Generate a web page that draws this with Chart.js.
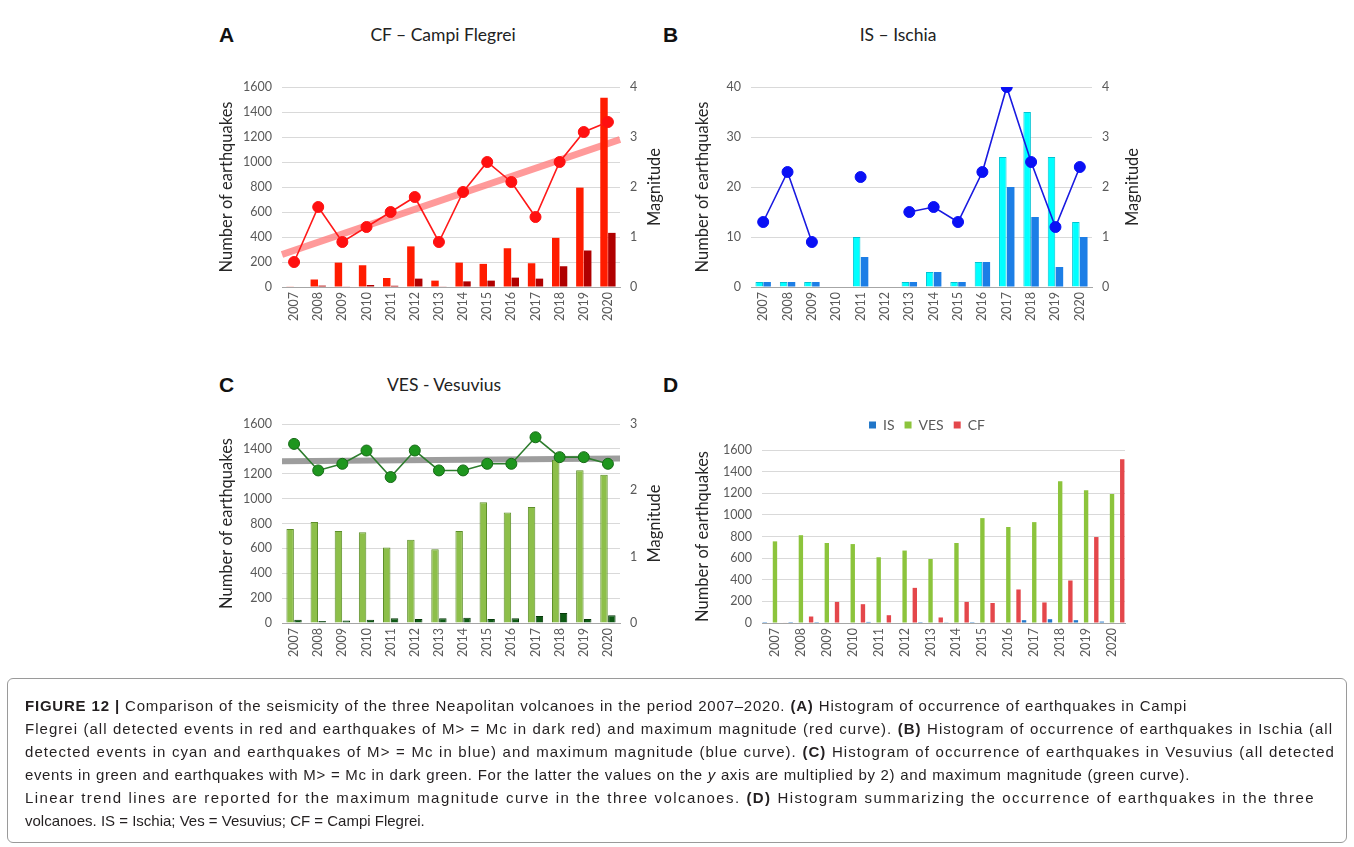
<!DOCTYPE html>
<html>
<head>
<meta charset="utf-8">
<script src="https://cdn.jsdelivr.net/npm/chart.js@4.4.0/dist/chart.umd.min.js"></script>
<style>
body { margin: 0; background: #fff; width: 1354px; height: 847px; position: relative; overflow: hidden; }
canvas { position: absolute; }
.let { position: absolute; font: bold 21px "Liberation Sans", Arial, sans-serif; color: #111; }
.ttl { position: absolute; font: 17.5px Lato, sans-serif; color: #222; transform: translateX(-50%); white-space: nowrap; }
.frame { position: absolute; left: 7px; top: 678px; width: 1338px; height: 163px; border: 1px solid #9a9a9a; border-radius: 6px; }
.cap { position: absolute; left: 25px; top: 694px; font: 15px "Liberation Sans", Arial, sans-serif; line-height: 23px; color: #231f20; white-space: nowrap; }
.cap span { display: block; text-align: justify; text-align-last: justify; }
.cap span.last { text-align-last: left; }
</style>
</head>
<body>
<div class="let" style="left:219px;top:23px">A</div>
<div class="ttl" style="left:443px;top:24px">CF – Campi Flegrei</div>
<div class="let" style="left:663px;top:23px">B</div>
<div class="ttl" style="left:898px;top:24px">IS – Ischia</div>
<div class="let" style="left:219px;top:373px">C</div>
<div class="ttl" style="left:444px;top:374px">VES - Vesuvius</div>
<div class="let" style="left:663px;top:373px">D</div>

<canvas id="chA" width="475" height="290" style="left:190px;top:60px"></canvas>
<canvas id="chB" width="500" height="290" style="left:665px;top:60px"></canvas>
<canvas id="chC" width="475" height="290" style="left:190px;top:395px"></canvas>
<canvas id="chD" width="524" height="290" style="left:665px;top:395px"></canvas>

<div class="frame"></div>
<div class="cap">
<span style="width:1162px;letter-spacing:0.78px"><b>FIGURE 12 |</b> Comparison of the seismicity of the three Neapolitan volcanoes in the period 2007–2020. <b>(A)</b> Histogram of occurrence of earthquakes in Campi</span>
<span style="width:1308px;letter-spacing:1.02px">Flegrei (all detected events in red and earthquakes of M&gt; = Mc in dark red) and maximum magnitude (red curve). <b>(B)</b> Histogram of occurrence of earthquakes in Ischia (all</span>
<span style="width:1310px;letter-spacing:1.06px">detected events in cyan and earthquakes of M&gt; = Mc in blue) and maximum magnitude (blue curve). <b>(C)</b> Histogram of occurrence of earthquakes in Vesuvius (all detected</span>
<span style="width:1165px;letter-spacing:0.64px">events in green and earthquakes with M&gt; = Mc in dark green. For the latter the values on the <i>y</i> axis are multiplied by 2) and maximum magnitude (green curve).</span>
<span style="width:1290px;letter-spacing:1.42px">Linear trend lines are reported for the maximum magnitude curve in the three volcanoes. <b>(D)</b> Histogram summarizing the occurrence of earthquakes in the three</span>
<span class="last">volcanoes. IS = Ischia; Ves = Vesuvius; CF = Campi Flegrei.</span>
</div>

<script>
// data
var years = ['2007','2008','2009','2010','2011','2012','2013','2014','2015','2016','2017','2018','2019','2020'];

var cfAll = [5, 60, 195, 174, 72, 325, 51, 195, 185, 310, 190, 393, 795, 1514];
var cfMc  = [0, 11, 5, 16, 10, 67, 5, 45, 51, 75, 67, 166, 292, 433];
var cfMag = [0.5, 1.6, 0.9, 1.2, 1.5, 1.8, 0.9, 1.9, 2.5, 2.1, 1.4, 2.5, 3.1, 3.3];
var cfTrend = [0.65, 2.95];   // trend line magnitude at left / right edge of the plot

var isAll = [1, 1, 1, 0, 10, 0, 1, 3, 1, 5, 26, 35, 26, 13];
var isMc  = [1, 1, 1, 0, 6, 0, 1, 3, 1, 5, 20, 14, 4, 10];
var isMag = [1.3, 2.3, 0.9, null, 2.2, null, 1.5, 1.6, 1.3, 2.3, 4.0, 2.5, 1.2, 2.4];

var vesAll = [755, 812, 740, 730, 608, 670, 592, 740, 970, 888, 933, 1312, 1228, 1192];
var vesMc  = [27, 16, 21, 27, 38, 32, 38, 43, 32, 38, 56, 80, 32, 62];
var vesMag = [2.7, 2.3, 2.4, 2.6, 2.2, 2.6, 2.3, 2.3, 2.4, 2.4, 2.8, 2.5, 2.5, 2.4];
var vesTrend = [2.44, 2.48];

Chart.defaults.font.family = 'Lato';
Chart.defaults.animation = false;

var rightTitle = {
	id: 'rightTitle',
	afterDraw: function(chart, args, opts){
		if (!opts.text) return;
		var ctx = chart.ctx, a = chart.chartArea;
		ctx.save();
		ctx.translate(a.right + opts.dx, (a.top + a.bottom) / 2);
		ctx.rotate(-Math.PI / 2);
		ctx.font = '16.5px Lato';
		ctx.fillStyle = '#262626';
		ctx.textAlign = 'center';
		ctx.textBaseline = 'middle';
		ctx.fillText(opts.text, 0, 0);
		ctx.restore();
	}
};

// linear trend line across the plot, under the bars
var trend = {
	id: 'trend',
	beforeDatasetsDraw: function(chart, args, opts){
		if (!opts.ends) return;
		var ctx = chart.ctx, a = chart.chartArea, y1 = chart.scales.y1;
		ctx.save();
		ctx.strokeStyle = opts.color;
		ctx.lineWidth = opts.width;
		ctx.beginPath();
		ctx.moveTo(a.left, y1.getPixelForValue(opts.ends[0]));
		ctx.lineTo(a.right, y1.getPixelForValue(opts.ends[1]));
		ctx.stroke();
		ctx.restore();
	}
};

var legendGap = {
	id: 'legendGap',
	beforeLayout: function(chart, args, opts){
		var lg = chart.legend;
		if (!lg || lg._gapDone) return;
		var fit = lg.fit;
		lg.fit = function(){ fit.call(this); this.height += opts.extra || 0; };
		lg._gapDone = true;
	}
};

function plain(v){ return String(v); }

function yearAxis(){
	return {
		type: 'category',
		offset: true,
		grid: { display: false, drawTicks: false },
		border: { display: true, color: '#A6A6A6', width: 1 },
		ticks: { autoSkip: false, minRotation: 90, maxRotation: 90, padding: 5, color: '#595959', font: { size: 12.5 } },
		afterFit: function(s){ s.height = 45; }
	};
}

function countAxis(max, step, titlePad, width){
	return {
		position: 'left', min: 0, max: max,
		grid: { color: '#D9D9D9', drawTicks: false },
		border: { display: false },
		ticks: { stepSize: step, padding: 10, color: '#595959', font: { size: 12.5 }, callback: plain },
		title: { display: true, text: 'Number of earthquakes', color: '#262626', font: { size: 16.5 }, padding: { top: titlePad, bottom: 0 } },
		afterFit: function(s){ s.width = width; }
	};
}

function magAxis(max, width){
	return {
		position: 'right', min: 0, max: max,
		grid: { display: false, drawTicks: false },
		border: { display: false },
		ticks: { stepSize: 1, padding: 10, color: '#595959', font: { size: 12.5 }, callback: plain },
		afterFit: function(s){ s.width = width; }
	};
}

function bars(data, color, border){
	return {
		type: 'bar', data: data, yAxisID: 'y', order: 2,
		backgroundColor: color,
		borderColor: border || color,
		borderWidth: border ? 1 : 0,
		categoryPercentage: 0.65, barPercentage: 0.95
	};
}

function magLine(data, line, fill, edge){
	return {
		type: 'line', data: data, yAxisID: 'y1', order: 1,
		borderColor: line, borderWidth: 1.6,
		pointRadius: 5.5, pointBackgroundColor: fill, pointBorderColor: edge || fill, pointBorderWidth: 1,
		spanGaps: false, tension: 0
	};
}

// A - Campi Flegrei
new Chart(document.getElementById('chA'), {
	type: 'bar',
	data: {
		labels: years,
		datasets: [
			bars(cfAll, '#FF1C00'),
			bars(cfMc, '#B00000'),
			magLine(cfMag, '#FF1A1A', '#FF1010')
		]
	},
	options: {
		responsive: false,
		layout: { padding: { top: 27, bottom: 18, left: 0, right: 0 } },
		plugins: {
			legend: { display: false }, tooltip: { enabled: false },
			rightTitle: { text: 'Magnitude', dx: 35 },
			trend: { ends: cfTrend, color: 'rgba(255,120,120,0.75)', width: 7 }
		},
		scales: { x: yearAxis(), y: countAxis(1600, 200, 27, 92), y1: magAxis(4, 45) }
	},
	plugins: [rightTitle, trend]
});

// B - Ischia
new Chart(document.getElementById('chB'), {
	type: 'bar',
	data: {
		labels: years,
		datasets: [
			bars(isAll, '#00FFFF', '#00C4D4'),
			bars(isMc, '#1C7EE6'),
			magLine(isMag, '#1A1AE0', '#0A10F5')
		]
	},
	options: {
		responsive: false,
		layout: { padding: { top: 27, bottom: 18, left: 0, right: 23 } },
		plugins: { legend: { display: false }, tooltip: { enabled: false }, rightTitle: { text: 'Magnitude', dx: 41 } },
		scales: { x: yearAxis(), y: countAxis(40, 10, 28, 86), y1: magAxis(4, 50) }
	},
	plugins: [rightTitle]
});

// C - Vesuvius
new Chart(document.getElementById('chC'), {
	type: 'bar',
	data: {
		labels: years,
		datasets: [
			bars(vesAll, '#8DBF4A', '#5E8F2A'),
			bars(vesMc, '#0E5A14', '#073A0A'),
			magLine(vesMag, '#2E7D2E', '#1E961E', '#176A17')
		]
	},
	options: {
		responsive: false,
		layout: { padding: { top: 29, bottom: 17, left: 0, right: 0 } },
		plugins: {
			legend: { display: false }, tooltip: { enabled: false },
			rightTitle: { text: 'Magnitude', dx: 35 },
			trend: { ends: vesTrend, color: 'rgba(140,140,140,0.85)', width: 6 }
		},
		scales: { x: yearAxis(), y: countAxis(1600, 200, 27, 92), y1: magAxis(3, 45) }
	},
	plugins: [rightTitle, trend]
});

// D - summary
new Chart(document.getElementById('chD'), {
	type: 'bar',
	data: {
		labels: years,
		datasets: [
			{ label: 'IS', data: isAll, backgroundColor: '#2176C8', categoryPercentage: 1.18, barPercentage: 0.43 },
			{ label: 'VES', data: vesAll, backgroundColor: '#8CC43C', categoryPercentage: 1.18, barPercentage: 0.43 },
			{ label: 'CF', data: cfAll, backgroundColor: '#E4474B', categoryPercentage: 1.18, barPercentage: 0.43 }
		]
	},
	options: {
		responsive: false,
		layout: { padding: { top: 13, bottom: 17, left: 0, right: 0 } },
		plugins: {
			tooltip: { enabled: false },
			legendGap: { extra: 8 },
			legend: {
				position: 'top',
				labels: { boxWidth: 7, boxHeight: 7, padding: 10, color: '#595959', font: { size: 14 } }
			}
		},
		scales: {
			x: yearAxis(),
			y: countAxis(1600, 200, 28, 97),
			yPad: { position: 'right', display: true, grid: { display: false }, border: { display: false }, ticks: { display: false }, afterFit: function(s){ s.width = 64; } }
		}
	},
	plugins: [legendGap]
});
</script>
</body>
</html>
